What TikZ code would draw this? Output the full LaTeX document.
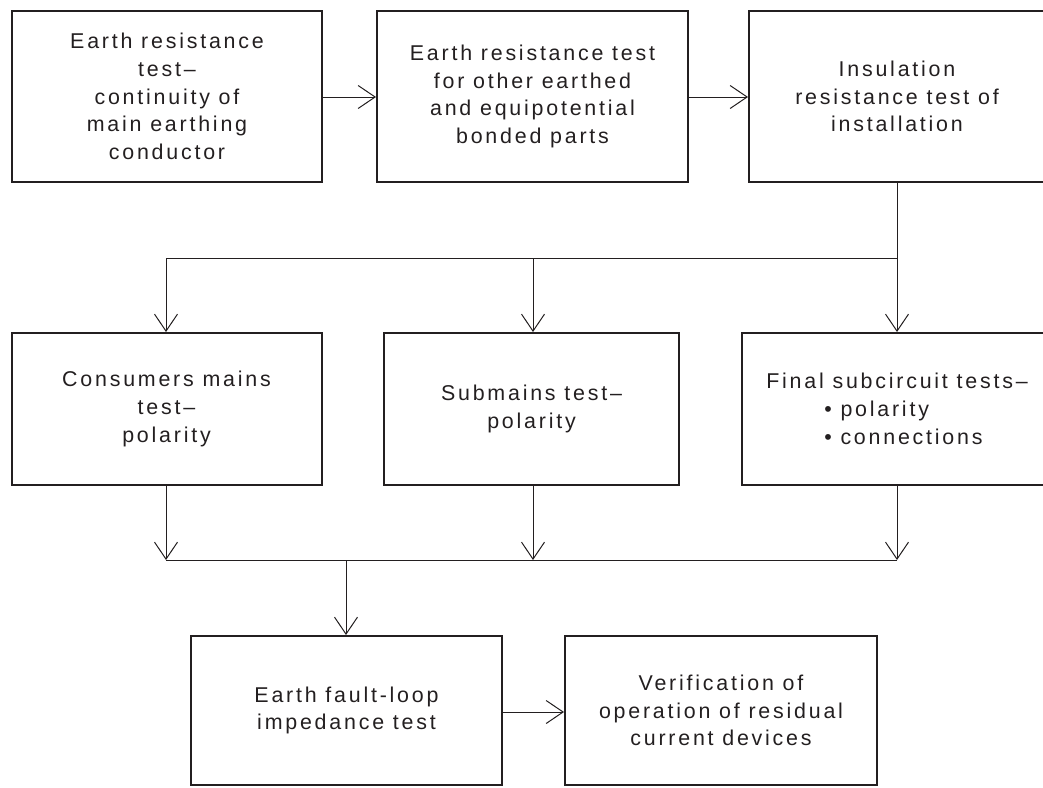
\documentclass[tikz,border=0pt]{standalone}
\usepackage{fontspec}
\setmainfont[LetterSpace=13]{Liberation Sans}
\usetikzlibrary{arrows.meta}
\definecolor{ink}{HTML}{231F20}
\tikzset{
  box/.style={draw=ink, line width=2pt, text=ink, align=center, inner sep=0pt,
    font=\fontsize{21.4}{27.8}\selectfont},
  conn/.style={draw=ink, line width=1pt},
  arr/.style={conn, -{Straight Barb[length=17pt,width=23pt,line width=1pt]}},
}
\begin{document}
\begin{tikzpicture}[x=1pt,y=-1pt]
\clip (0,0) rectangle (1043,787);
\fill[white] (0,0) rectangle (1043,787);
% top row
\node[box, minimum width=310pt, minimum height=171pt] (A) at (167,96.5)
  {Earth resistance\\test--\\continuity of\\main earthing\\conductor};
\node[box, minimum width=311pt, minimum height=171pt] (B) at (532.5,96.5)
  {Earth resistance test\\for other earthed\\and equipotential\\bonded parts};
\node[box, minimum width=296pt, minimum height=171pt] (C) at (897,96.5)
  {Insulation\\resistance test of\\installation};
% middle row
\node[box, minimum width=310pt, minimum height=152pt] (D) at (166.5,409)
  {Consumers mains\\test--\\polarity};
\node[box, minimum width=295pt, minimum height=152pt] (E) at (531.5,409)
  {Submains test--\\polarity};
\node[box, minimum width=310pt, minimum height=152pt, align=left] (F) at (897,409)
  {Final subcircuit tests--\\\hspace*{58pt}\textbullet\ polarity\\\hspace*{58pt}\textbullet\ connections};
% bottom row
\node[box, minimum width=311pt, minimum height=149pt] (G) at (346.5,710.5)
  {Earth fault-loop\\impedance test};
\node[box, minimum width=312pt, minimum height=149pt] (H) at (721,710.5)
  {Verification of\\operation of residual\\current devices};
% junction coordinates
\coordinate (s1) at (166,258);
\coordinate (s2) at (533,258);
\coordinate (s3) at (897,258);
\coordinate (m1) at (166,560);
\coordinate (m2) at (533,560);
\coordinate (m3) at (897,560);
\coordinate (mg) at (346,560);
% connectors
\draw[arr] (A.east |- 0,97) -- (B.west |- 0,97);
\draw[arr] (B.east |- 0,97) -- (C.west |- 0,97);
\draw[conn] (C.south) -- (s3) -- (s1);
\draw[arr] (s1) -- (D.north -| s1);
\draw[arr] (s2) -- (E.north -| s2);
\draw[arr] (s3) -- (F.north -| s3);
\draw[arr] (D.south -| m1) -- (m1);
\draw[arr] (E.south -| m2) -- (m2);
\draw[arr] (F.south -| m3) -- (m3);
\draw[conn] (m1) -- (m3);
\draw[arr] (mg) -- (G.north -| mg);
\draw[arr] (G.east |- 0,712) -- (H.west |- 0,712);
\end{tikzpicture}
\end{document}
